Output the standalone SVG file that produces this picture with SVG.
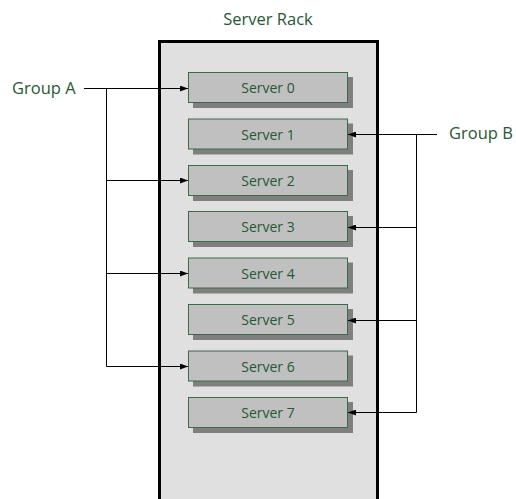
<svg xmlns="http://www.w3.org/2000/svg" width="516" height="499" viewBox="0 0 516 499">
<defs>
<style>
.t{font-family:"Open Sans","Liberation Sans",sans-serif;fill:#235a33;}
.lbl{font-size:16.5px;}
.srv{font-size:14px;text-anchor:middle;}
.box{fill:#c0c0c0;stroke:#3a6b47;stroke-width:1;}
.sh{fill:#7f7f7f;}
.c{fill:none;stroke:#000;stroke-width:1;}
</style>
<marker id="ah" markerWidth="8" markerHeight="6" refX="8" refY="3" orient="auto" markerUnits="userSpaceOnUse">
<path d="M0,0 L8,3 L0,6 Z" fill="#000"/>
</marker>
</defs>
<rect width="516" height="499" fill="#fff"/>
<g id="rack">
<rect x="159.5" y="41.5" width="218" height="470" fill="#e0e0e0" stroke="#000" stroke-width="3"/>
<text class="t lbl" x="268" y="25" text-anchor="middle">Server Rack</text>
</g>
<g id="server0"><rect class="sh" x="193" y="77" width="160" height="31"/><rect class="box" x="188.5" y="72.5" width="159" height="30"/><text class="t srv" x="268" y="93">Server 0</text></g>
<g id="server1"><rect class="sh" x="193" y="123.5" width="160" height="31"/><rect class="box" x="188.5" y="119" width="159" height="30"/><text class="t srv" x="268" y="139.5">Server 1</text></g>
<g id="server2"><rect class="sh" x="193" y="170" width="160" height="31"/><rect class="box" x="188.5" y="165.5" width="159" height="30"/><text class="t srv" x="268" y="186">Server 2</text></g>
<g id="server3"><rect class="sh" x="193" y="216" width="160" height="31"/><rect class="box" x="188.5" y="211.5" width="159" height="30"/><text class="t srv" x="268" y="232">Server 3</text></g>
<g id="server4"><rect class="sh" x="193" y="262.5" width="160" height="31"/><rect class="box" x="188.5" y="258" width="159" height="30"/><text class="t srv" x="268" y="278.5">Server 4</text></g>
<g id="server5"><rect class="sh" x="193" y="309" width="160" height="31"/><rect class="box" x="188.5" y="304.5" width="159" height="30"/><text class="t srv" x="268" y="325">Server 5</text></g>
<g id="server6"><rect class="sh" x="193" y="355.5" width="160" height="31"/><rect class="box" x="188.5" y="351" width="159" height="30"/><text class="t srv" x="268" y="371.5">Server 6</text></g>
<g id="server7"><rect class="sh" x="193" y="402" width="160" height="31"/><rect class="box" x="188.5" y="397.5" width="159" height="30"/><text class="t srv" x="268" y="418">Server 7</text></g>
<g id="groupA"><text class="t lbl" x="12" y="93.5">Group A</text></g>
<g id="groupB"><text class="t lbl" x="449" y="139">Group B</text></g>
<g id="connectors">
<path class="c" d="M84,88.5 H188" marker-end="url(#ah)"/>
<path class="c" d="M106.5,88.5 V366.5"/>
<path class="c" d="M106.5,180.5 H188" marker-end="url(#ah)"/>
<path class="c" d="M106.5,273.5 H188" marker-end="url(#ah)"/>
<path class="c" d="M106.5,366.5 H188" marker-end="url(#ah)"/>
<path class="c" d="M437,134.5 H348" marker-end="url(#ah)"/>
<path class="c" d="M416.5,134.5 V412.5"/>
<path class="c" d="M416.5,227.5 H348" marker-end="url(#ah)"/>
<path class="c" d="M416.5,320.5 H348" marker-end="url(#ah)"/>
<path class="c" d="M416.5,412.5 H348" marker-end="url(#ah)"/>
</g>
</svg>
